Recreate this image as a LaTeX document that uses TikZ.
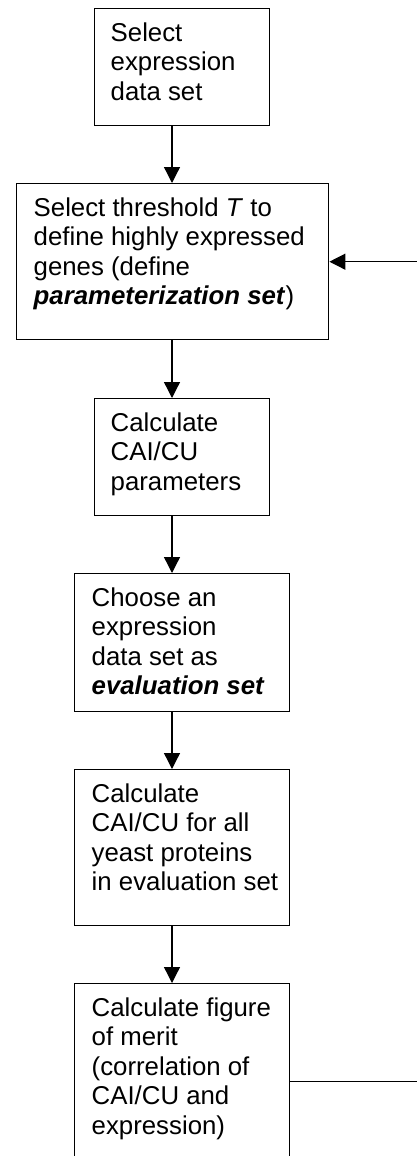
\documentclass[tikz,border=0pt]{standalone}
\usepackage{fontspec}
\setmainfont{Liberation Sans}
\usetikzlibrary{arrows.meta}
\newcommand{\boxtext}[3]{\parbox[c][#2][t]{#1}{\vspace*{12pt}\noindent\begin{tabular}[t]{@{}l@{}}#3\end{tabular}}}
\tikzset{
  stepbox/.style={draw, line width=1.4pt, inner xsep=16pt, inner ysep=0pt, anchor=north west,
    font=\fontsize{25.8}{29.5}\selectfont},
  flow/.style={line width=1.3pt, -{Triangle[length=16pt,width=16pt]}}
}

\begin{document}
\begin{tikzpicture}[x=1pt,y=-1pt]
                \useasboundingbox (0,0) rectangle (416,1156);

                % Steps of the procedure
                \node[stepbox] (select) at (94,8) {\boxtext{143pt}{117pt}{Select\\expression\\data set}};
                \node[stepbox, inner xsep=17pt] (thresh) at (16,183) {\boxtext{278pt}{156pt}{Select threshold \textit{T} to\\define highly expressed\\genes (define\\\textbf{\textit{parameterization set}})}};
                \node[stepbox] (params) at (94,398) {\boxtext{143pt}{117pt}{Calculate\\CAI/CU\\parameters}};
                \node[stepbox, inner xsep=17pt] (evalset) at (74,573) {\boxtext{181pt}{138pt}{Choose an\\expression\\data set as\\\textbf{\textit{evaluation set}}}};
                \node[stepbox, inner xsep=17pt] (calcall) at (74,769) {\boxtext{181pt}{156pt}{Calculate\\CAI/CU for all\\yeast proteins\\in evaluation set}};
                \node[stepbox, inner xsep=17pt] (merit) at (74,983) {\boxtext{181pt}{196pt}{Calculate figure\\of merit\\(correlation of\\CAI/CU and\\expression)}};

                % Arrows down the middle
                \coordinate (spine) at (172,0);
                \draw[flow] (select.south -| spine) -- (thresh.north -| spine);
                \draw[flow] (thresh.south -| spine) -- (params.north -| spine);
                \draw[flow] (params.south -| spine) -- (evalset.north -| spine);
                \draw[flow] (evalset.south -| spine) -- (calcall.north -| spine);
                \draw[flow] (calcall.south -| spine) -- (merit.north -| spine);

                % Loop back to the threshold
                \draw[flow] (merit.east) -- ++(136,0) |- (thresh.east);
\end{tikzpicture}
\end{document}
